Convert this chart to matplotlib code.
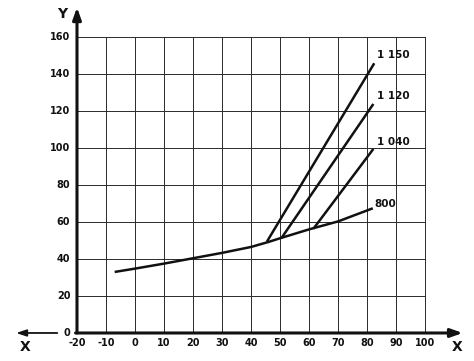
import matplotlib
matplotlib.use("Agg")
import matplotlib.pyplot as plt
import numpy as np

# data
x_ticks = [-20, -10, 0, 10, 20, 30, 40, 50, 60, 70, 80, 90, 100]
y_ticks = [0, 20, 40, 60, 80, 100, 120, 140, 160]

base_x = [-7, 0, 10, 20, 30, 40, 46, 50, 60, 70, 82]
base_y = [33, 34.8, 37.5, 40.4, 43.3, 46.5, 49.2, 51.2, 56, 60.3, 67.4]

branch_names = ["1 150", "1 120", "1 040"]
branch_x = [[45.5, 82.5], [50.5, 82.2], [61.5, 82.2]]
branch_y = [[49.4, 145.8], [51.3, 123.8], [56.3, 99.5]]
label_y = [150, 128, 103]
base_name = "800"

INK = "#111111"
GRID = "#2a2a2a"

fig = plt.figure(figsize=(4.74, 3.61), dpi=100)
ax = fig.add_axes([0, 0, 1, 1])
ax.set_xlim(-46.55, 116.9)
ax.set_ylim(-15.14, 180)
ax.axis("off")

# grid
for xv in x_ticks[1:]:
    ax.plot([xv, xv], [0, 160], color=GRID, lw=0.7, zorder=1)
for yv in y_ticks[1:]:
    ax.plot([-20, 100], [yv, yv], color=GRID, lw=0.7, zorder=1)

# axes with arrows
ax.annotate("", xy=(-20, 176), xytext=(-20, 0),
            arrowprops=dict(arrowstyle="-|>,head_width=0.25,head_length=0.7",
                            color=INK, lw=2.2, shrinkA=0, shrinkB=0), zorder=3)
ax.annotate("", xy=(113, 0), xytext=(-20.5, 0),
            arrowprops=dict(arrowstyle="-|>,head_width=0.25,head_length=0.7",
                            color=INK, lw=2.2, shrinkA=0, shrinkB=0), zorder=3)
ax.annotate("", xy=(-41, 0), xytext=(-26.8, 0),
            arrowprops=dict(arrowstyle="-|>,head_width=0.2,head_length=0.6",
                            color=INK, lw=1.3, shrinkA=0, shrinkB=0), zorder=3)

# tick labels
for yv in y_ticks:
    ax.text(-22.3, yv, str(yv), ha="right", va="center", fontsize=7,
            fontweight="bold", color=INK)
for xv in x_ticks:
    ax.text(xv, -5.6, str(xv), ha="center", va="center", fontsize=7,
            fontweight="bold", color=INK)

ax.text(-25.2, 172.5, "Y", ha="center", va="center", fontsize=10, fontweight="bold", color=INK)
ax.text(-37.9, -7.8, "X", ha="center", va="center", fontsize=10, fontweight="bold", color=INK)
ax.text(111.2, -7.8, "X", ha="center", va="center", fontsize=10, fontweight="bold", color=INK)

# curves
ax.plot(base_x, base_y, color=INK, lw=1.8, solid_capstyle="butt", zorder=4)
for xs, ys in zip(branch_x, branch_y):
    ax.plot(xs, ys, color=INK, lw=1.8, solid_capstyle="butt", zorder=4)
for name, ly in zip(branch_names, label_y):
    ax.text(83.5, ly, name, ha="left", va="center", fontsize=7.5,
            fontweight="bold", color=INK)
ax.text(82.5, 69.5, base_name, ha="left", va="center", fontsize=7.5,
        fontweight="bold", color=INK)

fig.savefig("out.png", dpi=100)
